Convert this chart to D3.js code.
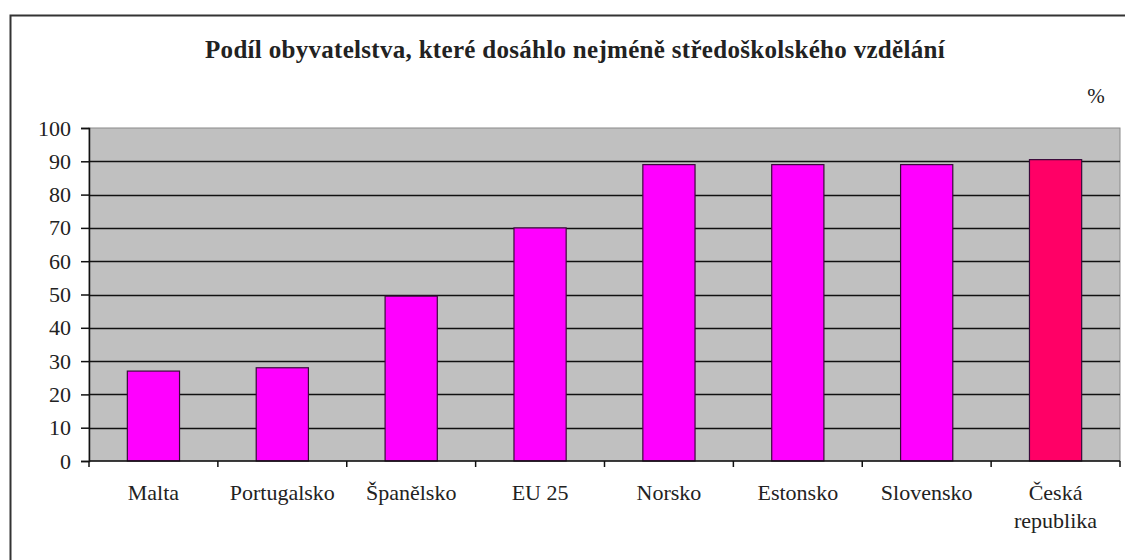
<!DOCTYPE html>
<html>
<head>
<meta charset="utf-8">
<script src="https://cdn.jsdelivr.net/npm/d3@7"></script>
<style>
  body { margin: 0; background: #fff; }
  text { font-family: "Liberation Serif", "Times New Roman", "DejaVu Serif", serif; fill: #222; }
</style>
</head>
<body>
<svg id="chart" width="1125" height="560"></svg>
<script>
// data
var countries = ['Malta', 'Portugalsko', 'Španělsko', 'EU 25', 'Norsko', 'Estonsko', 'Slovensko', 'Česká republika']
var shares = [27, 28, 49.5, 70, 89, 89, 89, 90.5]
var yTicks = [0, 10, 20, 30, 40, 50, 60, 70, 80, 90, 100]
var title = 'Podíl obyvatelstva, které dosáhlo nejméně středoškolského vzdělání'

var svg = d3.select('#chart')

// outer frame, runs off the right and bottom of the picture
svg.append('rect')
  .attr('x', 10.5).attr('y', 15.5)
  .attr('width', 1140).attr('height', 580)
  .attr('fill', 'none').attr('stroke', '#333').attr('stroke-width', 2)

var plotLeft = 89, plotRight = 1120, plotTop = 128, plotBottom = 461

var x = d3.scaleBand().domain(countries).range([plotLeft, plotRight]).padding(0)
var y = d3.scaleLinear().domain([0, 100]).range([plotBottom, plotTop])

// plot area
svg.append('rect')
  .attr('x', plotLeft).attr('y', plotTop)
  .attr('width', plotRight - plotLeft).attr('height', plotBottom - plotTop)
  .attr('fill', '#c0c0c0').attr('stroke', '#8a8a8a')

// gridlines
svg.append('g').selectAll('line')
  .data(yTicks.filter(function(d) { return d > 0 && d < 100 }))
  .enter().append('line')
    .attr('x1', plotLeft).attr('x2', plotRight)
    .attr('y1', function(d) { return Math.round(y(d)) + 0.5 })
    .attr('y2', function(d) { return Math.round(y(d)) + 0.5 })
    .attr('stroke', '#111').attr('stroke-width', 1.5)

// bars
var barW = x.bandwidth() * 0.405
svg.append('g').selectAll('rect')
  .data(countries)
  .enter().append('rect')
    .attr('x', function(d) { return x(d) + (x.bandwidth() - barW) / 2 })
    .attr('y', function(d, i) { return y(shares[i]) })
    .attr('width', barW)
    .attr('height', function(d, i) { return y(0) - y(shares[i]) })
    .attr('fill', function(d) { return d === 'Česká republika' ? '#ff0066' : '#ff00ff' })
    .attr('stroke', '#3a0a3a').attr('stroke-width', 1.2)

// y axis
var yAxis = svg.append('g')
  .attr('transform', 'translate(' + plotLeft + ',0)')
  .call(d3.axisLeft(y).tickValues(yTicks).tickSize(8).tickPadding(10))
yAxis.select('.domain').attr('stroke', '#111').attr('stroke-width', 1.5)
yAxis.selectAll('.tick line').attr('stroke', '#111').attr('stroke-width', 1.5)
yAxis.selectAll('.tick text')
  .style('font-family', '"Liberation Serif", "Times New Roman", serif')
  .style('font-size', '22px').attr('fill', '#222')

// x axis with ticks between categories
var xAxisG = svg.append('g').attr('transform', 'translate(0,' + plotBottom + ')')
xAxisG.append('line')
  .attr('x1', plotLeft).attr('x2', plotRight)
  .attr('stroke', '#111').attr('stroke-width', 1.5)
xAxisG.selectAll('.tk')
  .data(countries.concat(['end']))
  .enter().append('line')
    .attr('class', 'tk')
    .attr('x1', function(d) { return d === 'end' ? plotRight : x(d) })
    .attr('x2', function(d) { return d === 'end' ? plotRight : x(d) })
    .attr('y1', 0).attr('y2', 6)
    .attr('stroke', '#111').attr('stroke-width', 1.5)

// category labels (Česká republika wraps)
svg.append('g').selectAll('text')
  .data(countries)
  .enter().append('text')
    .attr('text-anchor', 'middle')
    .attr('font-size', 22)
    .attr('x', function(d) { return x(d) + x.bandwidth() / 2 })
    .attr('y', 500)
    .each(function(d) {
      var words = d === 'Česká republika' ? ['Česká', 'republika'] : [d]
      var t = d3.select(this)
      words.forEach(function(w, i) {
        t.append('tspan')
          .attr('x', t.attr('x'))
          .attr('dy', i === 0 ? 0 : 28)
          .text(w)
      })
    })

// title
svg.append('text')
  .attr('x', 575).attr('y', 58)
  .attr('text-anchor', 'middle')
  .attr('font-size', 25).attr('font-weight', 'bold')
  .attr('letter-spacing', 0.3)
  .attr('fill', '#111')
  .text(title)

// unit
svg.append('text')
  .attr('x', 1096).attr('y', 103)
  .attr('text-anchor', 'middle')
  .attr('font-size', 21)
  .text('%')
</script>
</body>
</html>
